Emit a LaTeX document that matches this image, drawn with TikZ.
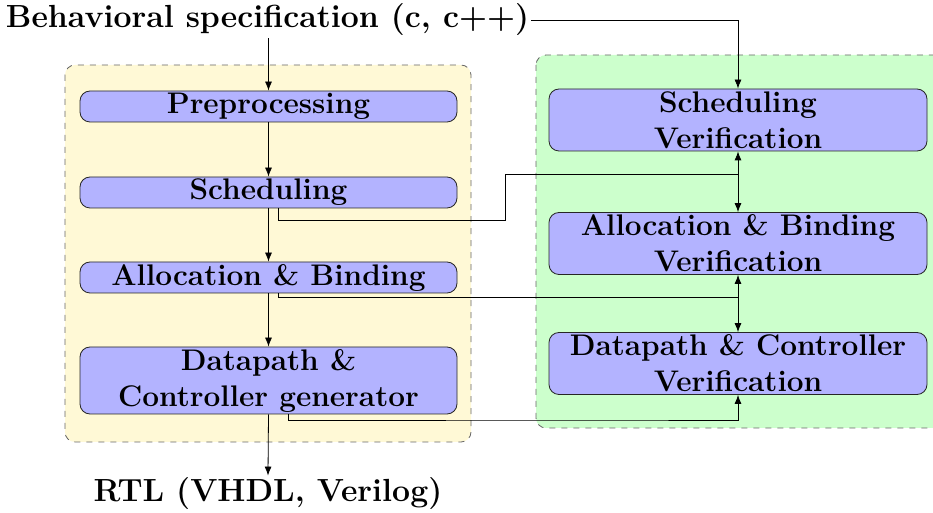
\documentclass[tikz,border=0pt]{standalone}
\usetikzlibrary{arrows.meta}
\definecolor{flowfill}{RGB}{179,179,255}
\definecolor{synthbg}{RGB}{255,249,214}
\definecolor{verifbg}{RGB}{204,255,204}
\begin{document}
\begin{tikzpicture}[x=0.5pt,y=-0.5pt,
  font=\fontsize{16}{18}\selectfont\bfseries,
  stepbox/.style={draw=black!85, fill=flowfill, rounded corners=5pt, align=center, inner sep=0pt,
    font=\fontsize{14.9}{18}\selectfont\bfseries},
  leftbox/.style={stepbox, minimum width=188.5pt},
  rightbox/.style={stepbox, minimum width=189pt, minimum height=31pt},
  region/.style={draw=black!60, dashed, rounded corners=5pt},
  flow/.style={-{Latex[length=4.5pt,width=3.5pt]}, draw=black},
  link/.style={draw=black}]
\useasboundingbox (0,0) rectangle (933,513);

% background regions
\path[region, fill=synthbg] (65,65) rectangle (471,442);
\begin{scope}
  \clip (0,0) rectangle (933,513);
  \path[region, fill=verifbg] (536,55) rectangle (950,428);
\end{scope}

% input and output texts
\node[inner sep=1pt] (spec) at (267.5,20) {Behavioral specification (c, c++)};
\node[inner sep=1pt] (rtl) at (268,494) {RTL (VHDL, Verilog)};

% synthesis flow
\node[leftbox, minimum height=15.5pt] (pre) at (268.5,106.5) {Preprocessing};
\node[leftbox, minimum height=15.5pt] (sch) at (268.5,192.5) {Scheduling};
\node[leftbox, minimum height=15.5pt] (alb) at (268.5,277.5) {Allocation \& Binding};
\node[leftbox, minimum height=33.5pt] (dpc) at (268.5,380.5) {Datapath \&\\Controller generator};

% verification steps
\node[rightbox] (sv) at (738,120) {Scheduling\\Verification};
\node[rightbox] (av) at (738,243.5) {Allocation \& Binding\\Verification};
\node[rightbox] (dv) at (738,363.5) {Datapath \& Controller\\Verification};

% main flow arrows
\draw[flow] (spec.south -| pre.north) -- (pre.north);
\draw[flow] (pre) -- (sch);
\draw[flow] (sch) -- (alb);
\draw[flow] (alb) -- (dpc);
\draw[flow] (dpc.south) -- (rtl.north);

% specification to scheduling verification
\draw[flow] (spec.east) -| (sv.north);

% scheduling result to verification
\coordinate (j1) at (738,174);
\draw[link] ([xshift=5pt]sch.south) |- (505,220) |- (j1);
\draw[flow] (j1) -- (sv.south);
\draw[flow] (j1) -- (av.north);

% allocation result to verification
\coordinate (j2) at (738,297);
\draw[link] ([xshift=5pt]alb.south) |- (j2);
\draw[flow] (j2) -- (av.south);
\draw[flow] (j2) -- (dv.north);

% datapath result to verification
\draw[flow] ([xshift=10pt]dpc.south) |- (600,420) -| (dv.south);
\end{tikzpicture}
\end{document}
